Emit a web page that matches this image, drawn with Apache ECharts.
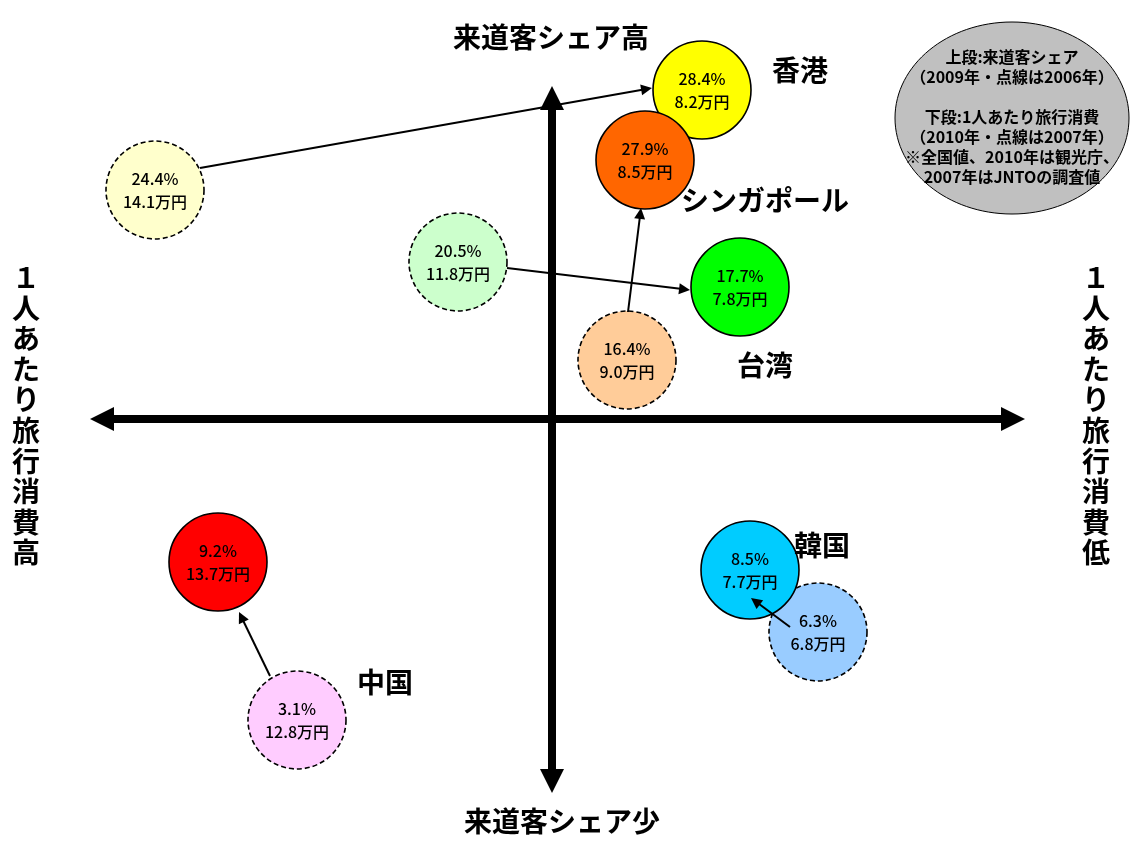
<!DOCTYPE html>
<html><head><meta charset="utf-8">
<script src="https://cdn.jsdelivr.net/npm/echarts@6/dist/echarts.min.js"></script>
<style>html,body{margin:0;padding:0;background:#fff}#c{width:1134px;height:841px}</style>
</head><body><div id="c"></div>
<script>
// ---- data ----
const countries = ['香港', 'シンガポール', '台湾', '中国', '韓国'];
const share2009 = [28.4, 27.9, 17.7, 9.2, 8.5];     // 来道客シェア (2009年)
const spend2010 = [8.2, 8.5, 7.8, 13.7, 7.7];       // 1人あたり旅行消費 万円 (2010年)
const share2006 = [24.4, 16.4, 20.5, 3.1, 6.3];     // 来道客シェア (2006年, 点線)
const spend2007 = [14.1, 9.0, 11.8, 12.8, 6.8];     // 1人あたり旅行消費 万円 (2007年, 点線)
// map coordinates (x: 消費 高←→低, y: シェア 少←→高)
const mapX2009 = [15.0, 9.3, 18.8, -33.4, 19.8];
const mapY2009 = [32.9, 25.9, 13.2, -14.3, -15.1];
const mapX2006 = [-39.7, 7.5, -9.4, -25.5, 26.6];
const mapY2006 = [22.9, 5.9, 15.7, -30.1, -21.3];
const nameX = [24.8, 21.3, 21.3, -16.7, 27.0];
const nameY = [34.9, 21.9, 5.4, -26.3, -12.6];
// arrows (2006 -> 2009)
const arrowFromX = [-35.2, 7.6, -4.5, -28.2, 23.8];
const arrowFromY = [25.1, 10.7, 15.1, -25.7, -20.8];
const arrowToX = [10.0, 8.9, 13.8, -31.3, 19.9];
const arrowToY = [33.1, 21.1, 12.9, -19.3, -17.9];
// quadrant axes
const hAxisEnds = [[-45.0, 0], [46.1, 0]];
const vAxisEnds = [[0, 32.1], [0, -36.2]];

const color2009 = ['#FFFF00', '#FF6600', '#00FF00', '#FF0000', '#00CCFF'];
const color2006 = ['#FFFFCC', '#FFCC99', '#CCFFCC', '#FFCCFF', '#99CCFF'];

const FONT = '"Noto Sans CJK JP", "Noto Sans", sans-serif';
const series = [];

series.push({
  type: 'lines', coordinateSystem: 'cartesian2d', z: 1,
  symbol: ['triangle', 'triangle'], symbolSize: 24,
  lineStyle: { color: '#000', width: 8, opacity: 1 },
  data: [{ coords: hAxisEnds }, { coords: vAxisEnds }],
  silent: true, animation: false
});

function bubble(x, y, share, spend, color, dashed, z) {
  return {
    type: 'scatter', z: z, animation: false, silent: true,
    symbol: 'circle', symbolSize: 98,
    itemStyle: { color: color, borderColor: '#000', borderWidth: 1.6, borderType: dashed ? [5, 3] : 'solid', opacity: 1 },
    label: {
      show: true, position: 'inside', color: '#000', fontFamily: FONT, fontSize: 16, fontWeight: 500, lineHeight: 23, opacity: 1,
      formatter: share.toFixed(1) + '%\n' + spend.toFixed(1) + '万円'
    },
    data: [[x, y]]
  };
}
// 2006 (dashed) first, then 2009; hong kong below singapore, korea 2006 below korea 2009
let z = 2;
for (let i = 0; i < countries.length; i++) {
  series.push(bubble(mapX2006[i], mapY2006[i], share2006[i], spend2007[i], color2006[i], true, z++));
}
for (let i = 0; i < countries.length; i++) {
  series.push(bubble(mapX2009[i], mapY2009[i], share2009[i], spend2010[i], color2009[i], false, z++));
}

// arrows: shorten end by half arrowhead so tip reaches target
const AH = 11;
const arrowData = [];
for (let i = 0; i < arrowFromX.length; i++) {
  const dx = arrowToX[i] - arrowFromX[i], dy = arrowToY[i] - arrowFromY[i];
  const len = Math.sqrt(dx * dx + dy * dy);
  const s = (AH / 2) / 10 / len;
  arrowData.push({ coords: [[arrowFromX[i], arrowFromY[i]], [arrowToX[i] - dx * s, arrowToY[i] - dy * s]] });
}
series.push({
  type: 'lines', coordinateSystem: 'cartesian2d', z: 40,
  symbol: ['none', 'triangle'], symbolSize: AH,
  lineStyle: { color: '#000', width: 2, opacity: 1 },
  data: arrowData, silent: true, animation: false
});

series.push({
  type: 'scatter', z: 50, symbolSize: 1, itemStyle: { color: 'rgba(0,0,0,0)', opacity: 1 }, silent: true, animation: false,
  label: { show: true, position: 'inside', color: '#000', opacity: 1, fontFamily: FONT, fontSize: 28, fontWeight: 'bold',
    formatter: p => countries[p.dataIndex] },
  data: nameX.map((x, i) => [x, nameY[i]])
});

const chart = echarts.init(document.getElementById('c'), null, { renderer: 'canvas' });
chart.setOption({
  backgroundColor: '#fff',
  animation: false,
  grid: { left: 0, right: 0, top: 0, bottom: 0 },
  xAxis: { type: 'value', min: -55.2, max: 58.2, show: false },
  yAxis: { type: 'value', min: -42.2, max: 41.9, show: false },
  graphic: [
    { type: 'ellipse', shape: { cx: 1012, cy: 118, rx: 117, ry: 96 }, style: { fill: '#C0C0C0', stroke: '#000', lineWidth: 1 }, z: 60 },
    { type: 'text', x: 1012, y: 117, z: 61, style: {
      text: '上段:来道客シェア\n（2009年・点線は2006年）\n\n下段:1人あたり旅行消費\n（2010年・点線は2007年）\n※全国値、2010年は観光庁、\n2007年はJNTOの調査値',
      align: 'center', verticalAlign: 'middle', fill: '#000', font: 'bold 16px ' + FONT, lineHeight: 20 } },
    { type: 'text', x: 551, y: 37, z: 61, style: { text: '来道客シェア高', align: 'center', verticalAlign: 'middle', fill: '#000', font: 'bold 28px ' + FONT } },
    { type: 'text', x: 562, y: 821, z: 61, style: { text: '来道客シェア少', align: 'center', verticalAlign: 'middle', fill: '#000', font: 'bold 28px ' + FONT } },
    { type: 'text', x: 26, y: 415, z: 61, style: { text: '１\n人\nあ\nた\nり\n旅\n行\n消\n費\n高', align: 'center', verticalAlign: 'middle', fill: '#000', font: 'bold 28px ' + FONT, lineHeight: 30.6 } },
    { type: 'text', x: 1096, y: 415, z: 61, style: { text: '１\n人\nあ\nた\nり\n旅\n行\n消\n費\n低', align: 'center', verticalAlign: 'middle', fill: '#000', font: 'bold 28px ' + FONT, lineHeight: 30.6 } }
  ],
  series: series
});
</script>
</body></html>
